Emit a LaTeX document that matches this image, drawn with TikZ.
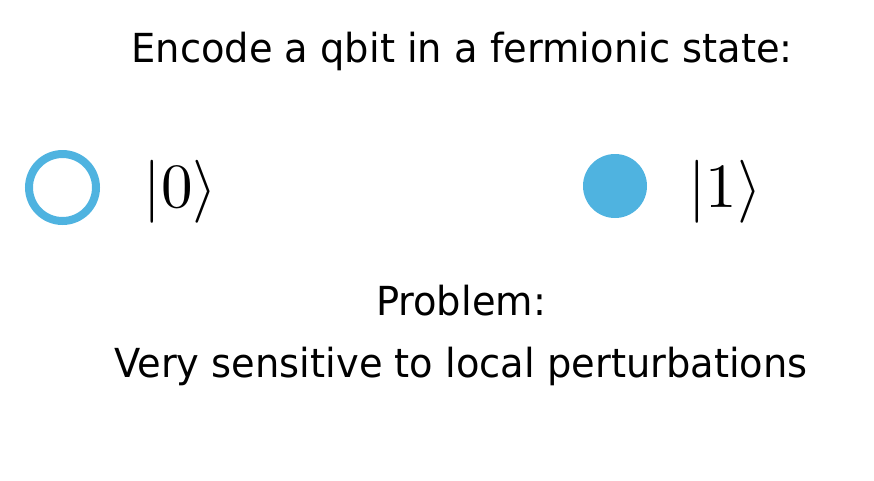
\documentclass[tikz,border=0pt]{standalone}
\usepackage{fontspec}
\setsansfont{DejaVu Sans}
\definecolor{qblue}{HTML}{4FB3E0}
\newcommand{\narrowtext}[1]{\scalebox{0.96}[1]{#1}}
\begin{document}
\begin{tikzpicture}[x=1pt,y=-1pt,
  txt/.style={font=\sffamily\fontsize{40}{46}\selectfont, inner sep=0pt, anchor=base},
  ket/.style={inner sep=0pt, anchor=base}]
\useasboundingbox (0,0) rectangle (874,480);
\node[txt] (title) at (462,62) {\narrowtext{Encode a qbit in a fermionic state:}};
\node[draw=qblue, line width=8pt, circle, minimum size=67pt, inner sep=0pt] (empty) at (62.5,187.5) {};
\node[fill=qblue, circle, minimum size=64pt, inner sep=0pt] (full) at (615,186) {};
\node[ket] (k0) at (180.5,207) {\scalebox{6.3}{$|0\rangle$}};
\node[ket] (k1) at (725,207) {\scalebox{6.3}{$|1\rangle$}};
\node[txt] (prob) at (461,315) {\narrowtext{Problem:}};
\node[txt] (sens) at (461,377) {\narrowtext{Very sensitive to local perturbations}};
\end{tikzpicture}
\end{document}
